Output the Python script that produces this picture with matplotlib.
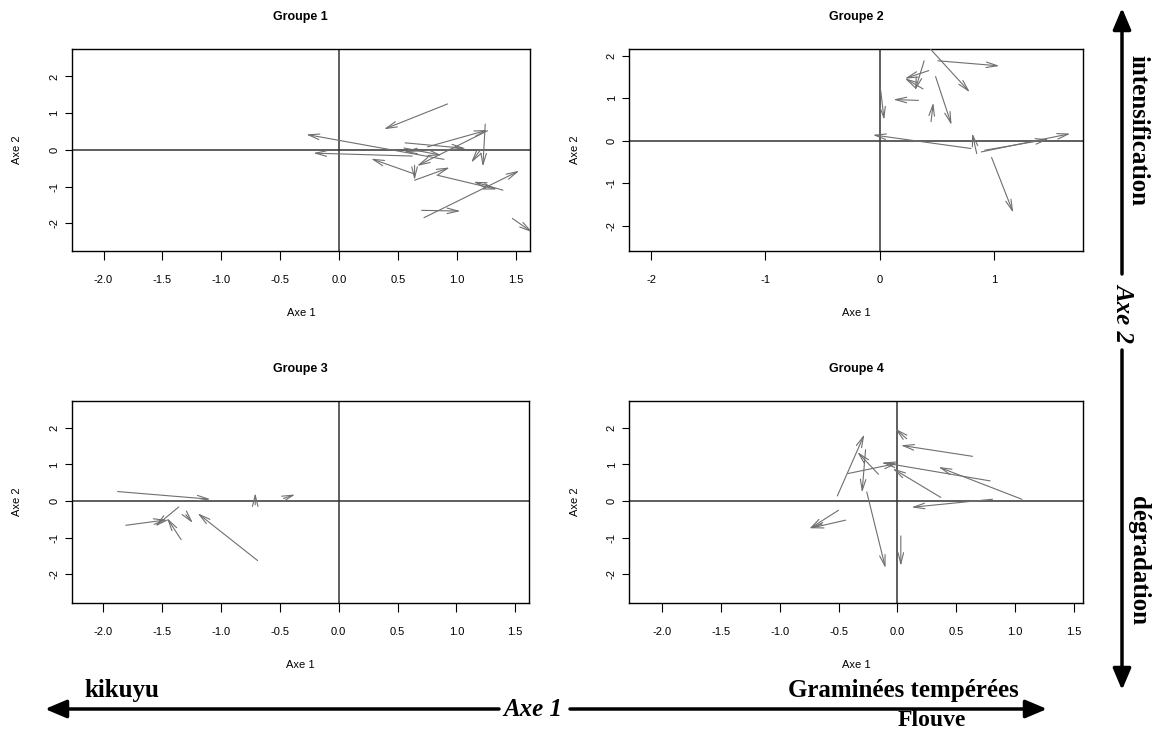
import matplotlib
matplotlib.use("Agg")
import matplotlib.pyplot as plt
from matplotlib.patches import FancyArrowPatch

# ---------------- data: arrows (start -> end) per group ----------------
g1_x0 = [0.92, 0.89, 0.62, 0.64, 0.64, 0.64, 0.83, 1.39, 0.72, 0.70, 1.47, 0.56, 0.75, 1.26, 1.24, 1.20, 1.06, 0.55]
g1_y0 = [1.25, -0.26, -0.17, -0.66, -0.83, -0.42, -0.69, -1.10, -1.85, -1.65, -1.87, 0.19, 0.08, 0.52, 0.70, 0.00, 0.03, 0.05]
g1_x1 = [0.38, -0.28, -0.22, 0.27, 0.94, 0.64, 1.34, 1.14, 1.53, 1.03, 1.64, 1.07, 1.26, 0.66, 1.22, 1.12, 0.55, 0.87]
g1_y1 = [0.56, 0.42, -0.09, -0.24, -0.48, -0.83, -1.08, -0.87, -0.57, -1.67, -2.25, 0.04, 0.54, -0.44, -0.46, -0.35, -0.05, -0.15]

g2_x0 = [0.43, 0.51, 0.49, 0.39, 0.43, 0.38, 0.34, 0.01, 0.45, 0.80, 0.85, 0.89, 0.92, 0.98]
g2_y0 = [2.20, 1.88, 1.51, 1.88, 1.65, 1.22, 0.95, 1.18, 0.45, -0.18, -0.30, -0.26, -0.22, -0.39]
g2_x1 = [0.79, 1.05, 0.63, 0.31, 0.22, 0.22, 0.12, 0.04, 0.47, -0.06, 0.81, 1.67, 1.48, 1.17]
g2_y1 = [1.14, 1.76, 0.37, 1.18, 1.46, 1.47, 0.97, 0.49, 0.90, 0.14, 0.18, 0.17, 0.04, -1.69]

g3_x0 = [-1.88, -1.81, -1.36, -1.34, -1.30, -0.69, -0.71, -0.47]
g3_y0 = [0.26, -0.66, -0.16, -1.05, -0.37, -1.62, -0.10, 0.07]
g3_x1 = [-1.09, -1.46, -1.56, -1.46, -1.24, -1.20, -0.71, -0.37]
g3_y1 = [0.05, -0.51, -0.69, -0.46, -0.60, -0.33, 0.22, 0.18]

g4_x0 = [0.08, 0.64, 0.79, 1.06, 0.37, 0.81, -0.51, -0.16, -0.27, -0.26, 0.03, -0.50, -0.44, -0.42]
g4_y0 = [1.70, 1.22, 0.55, 0.05, 0.10, 0.05, 0.14, 0.73, 1.40, 0.25, -0.95, -0.25, -0.52, 0.75]
g4_x1 = [-0.02, 0.03, -0.13, 0.35, -0.04, 0.12, -0.28, -0.34, -0.30, -0.10, 0.03, -0.75, -0.74, 0.00]
g4_y1 = [1.98, 1.52, 1.05, 0.93, 0.89, -0.17, 1.82, 1.34, 0.23, -1.83, -1.77, -0.76, -0.74, 1.03]

titles = ["Groupe 1", "Groupe 2", "Groupe 3", "Groupe 4"]
x_ticks_a = [-2.0, -1.5, -1.0, -0.5, 0.0, 0.5, 1.0, 1.5]
x_ticks_b = [-2, -1, 0, 1]
y_ticks = [-2, -1, 0, 1, 2]

W, H = 1152, 729
fig = plt.figure(figsize=(W / 100, H / 100), dpi=100)

def px_rect(l, r, t, b):
    return [l / W, (H - b) / H, (r - l) / W, (b - t) / H]

panels = [
    dict(rect=px_rect(71.7, 530, 49.3, 250.7), xlim=(-2.27, 1.62), ylim=(-2.75, 2.74),
         xt=x_ticks_a, xfmt="{:.1f}", data=(g1_x0, g1_y0, g1_x1, g1_y1)),
    dict(rect=px_rect(629.3, 1083, 49.3, 250.7), xlim=(-2.19, 1.78), ylim=(-2.58, 2.15),
         xt=x_ticks_b, xfmt="{:d}", data=(g2_x0, g2_y0, g2_x1, g2_y1)),
    dict(rect=px_rect(71.7, 529.3, 401.3, 602.7), xlim=(-2.27, 1.62), ylim=(-2.77, 2.72),
         xt=x_ticks_a, xfmt="{:.1f}", data=(g3_x0, g3_y0, g3_x1, g3_y1)),
    dict(rect=px_rect(629.3, 1083, 401.3, 602.7), xlim=(-2.28, 1.58), ylim=(-2.77, 2.72),
         xt=x_ticks_a, xfmt="{:.1f}", data=(g4_x0, g4_y0, g4_x1, g4_y1)),
]

sans = ["Liberation Sans", "DejaVu Sans"]
serif = ["Liberation Serif", "DejaVu Serif"]
arrow_col = "#6f6f6f"

for title, p in zip(titles, panels):
    ax = fig.add_axes(p["rect"])
    ax.set_xlim(*p["xlim"])
    ax.set_ylim(*p["ylim"])
    ax.axhline(0, color="#333333", lw=1.1, zorder=1)
    ax.axvline(0, color="#333333", lw=1.1, zorder=1)
    x0, y0, x1, y1 = p["data"]
    for a, b, c, d in zip(x0, y0, x1, y1):
        arr = FancyArrowPatch((a, b), (c, d), arrowstyle="->,head_length=0.8,head_width=0.2",
                              mutation_scale=10, color=arrow_col, lw=0.8,
                              shrinkA=0, shrinkB=0, zorder=3)
        ax.add_patch(arr)
    ax.set_xticks(p["xt"])
    ax.set_xticklabels([p["xfmt"].format(v) for v in p["xt"]], fontfamily=sans, fontsize=8)
    ax.set_yticks(y_ticks)
    ax.set_yticklabels([str(v) for v in y_ticks], fontfamily=sans, fontsize=8,
                       rotation=90, va="center")
    ax.tick_params(axis="x", length=6.5, width=0.8, pad=11, colors="black")
    ax.tick_params(axis="y", length=5, width=0.8, pad=4, colors="black")
    for s in ax.spines.values():
        s.set_linewidth(1.0)
        s.set_color("black")
    ax.text(0.5, 1.16, title, transform=ax.transAxes, ha="center", va="center",
            fontsize=9, fontweight="bold", fontfamily=sans)
    ax.text(0.5, -0.31, "Axe 1", transform=ax.transAxes, ha="center", va="center",
            fontsize=8, fontfamily=sans)
    ax.text(-0.12, 0.5, "Axe 2", transform=ax.transAxes, ha="center", va="center",
            fontsize=8, fontfamily=sans, rotation=90)

# ---------------- outer annotation arrows ----------------
ov = fig.add_axes([0, 0, 1, 1], zorder=-1)
ov.set_xlim(0, W)
ov.set_ylim(H, 0)
ov.axis("off")

def big_arrow(p0, p1):
    ov.add_patch(FancyArrowPatch(p0, p1, arrowstyle="-|>,head_length=1.3,head_width=0.55",
                                 mutation_scale=10, color="black", lw=2.5,
                                 shrinkA=0, shrinkB=0))

big_arrow((1122, 274), (1122, 8))
big_arrow((1122, 350), (1122, 690))
big_arrow((499, 709), (45, 709))
big_arrow((570, 709), (1047, 709))

big = 18
ov.text(1124, 312, "Axe 2", ha="center", va="center", rotation=-90, fontsize=big,
        fontweight="bold", fontstyle="italic", fontfamily=serif)
ov.text(533, 710, "Axe 1", ha="center", va="center", fontsize=big,
        fontweight="bold", fontstyle="italic", fontfamily=serif)
ov.text(1138, 130, "intensification", ha="center", va="center", rotation=-90, fontsize=big,
        fontweight="bold", fontfamily=serif)
ov.text(1138, 560, "dégradation", ha="center", va="center", rotation=-90, fontsize=big,
        fontweight="bold", fontfamily=serif)
ov.text(122, 691, "kikuyu", ha="center", va="center", fontsize=big,
        fontweight="bold", fontfamily=serif)
ov.text(903, 690, "Graminées tempérées", ha="center", va="center", fontsize=big,
        fontweight="bold", fontfamily=serif)
ov.text(932, 726, "Flouve", ha="center", va="baseline", fontsize=17,
        fontweight="bold", fontfamily=serif)

fig.savefig("out.png", dpi=100)
